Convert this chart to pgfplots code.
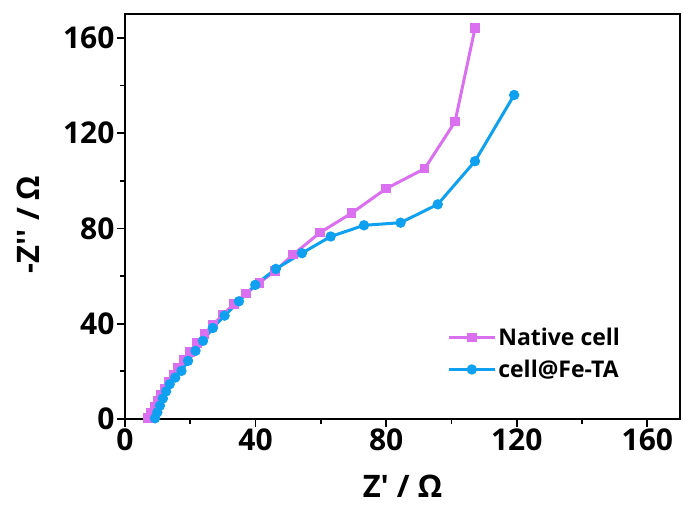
\documentclass[border=0pt]{standalone}
\usepackage{pgfplots}
\pgfplotsset{compat=1.18}
\usepackage{fontspec}
\setmainfont{Open Sans}
\definecolor{nativec}{RGB}{218,112,240}
\definecolor{fetac}{RGB}{16,160,240}
\begin{document}
\begin{tikzpicture}
\begin{axis}[
  name=ax,
  scale only axis,
  width=555pt, height=405pt,
  xmin=0, xmax=170, ymin=0, ymax=170,
  xtick={0,40,80,120,160}, ytick={0,40,80,120,160},
  minor x tick num=1, minor y tick num=1,
  xtick pos=left, ytick pos=left,
  tick align=outside,
  major tick length=8pt, minor tick length=5pt,
  every tick/.style={line width=1.8pt, black},
  axis line style={line width=2.4pt},
  /pgf/number format/assume math mode=true,
  tick label style={font=\bfseries\fontsize{30}{30}\selectfont},
  xticklabel style={yshift=2pt},
  yticklabel style={xshift=1pt},
  xlabel={Z\textquotesingle\ / \symbol{"03A9}},
  ylabel={-Z\textquotesingle\textquotesingle\ / \symbol{"03A9}},
  label style={font=\bfseries\fontsize{31}{31}\selectfont},
  xlabel style={yshift=-18pt},
  ylabel style={yshift=17pt, xshift=-8pt},
  legend style={draw=none, fill=none, at={(0.575,0.235)}, anchor=north west,
    font=\bfseries\fontsize{23}{26}\selectfont, row sep=9pt},
  legend cell align=left,
  legend image code/.code={\draw[mark repeat=2,mark phase=2] plot coordinates {(0pt,0pt) (23pt,0pt) (46pt,0pt)};},
]
\addplot[color=nativec, line width=3pt, mark=square*, mark size=3.3pt, mark options={solid}] coordinates {
(7.0,0.5) (8.0,2.5) (9.0,5.0) (10.0,7.5) (11.0,10.0) (12.2,12.8) (13.4,15.6) (14.8,18.6) (16.3,21.6) (18.0,24.8) (19.9,28.2) (22.0,31.8) (24.4,35.6) (27.0,39.6) (30.0,43.8) (33.3,48.2) (37.0,52.6) (41.2,57.2) (46.0,62.2) (51.5,69.0) (59.7,78.2) (69.4,86.4) (80.0,96.7) (91.8,105.1) (101.1,124.8) (107.2,164.0)
};
\addlegendentry{Native cell}
\addplot[color=fetac, line width=3pt, mark=*, mark size=3.6pt] coordinates {
(9.2,0.3) (9.9,2.8) (10.7,5.6) (11.6,8.6) (12.6,11.6) (13.7,14.6) (15.4,17.4) (17.3,20.2) (19.3,24.4) (21.6,28.6) (23.9,32.8) (26.9,38.2) (30.5,43.4) (34.9,49.4) (39.9,56.3) (46.2,63.0) (54.2,69.6) (63.0,76.6) (73.2,81.3) (84.4,82.4) (95.8,90.1) (107.2,108.2) (119.2,136.0)
};
\addlegendentry{cell@Fe-TA}
\end{axis}
\path[use as bounding box] ([shift={(-125pt,-86pt)}]ax.south west) rectangle ([shift={(3pt,14pt)}]ax.north east);
\end{tikzpicture}
\end{document}
